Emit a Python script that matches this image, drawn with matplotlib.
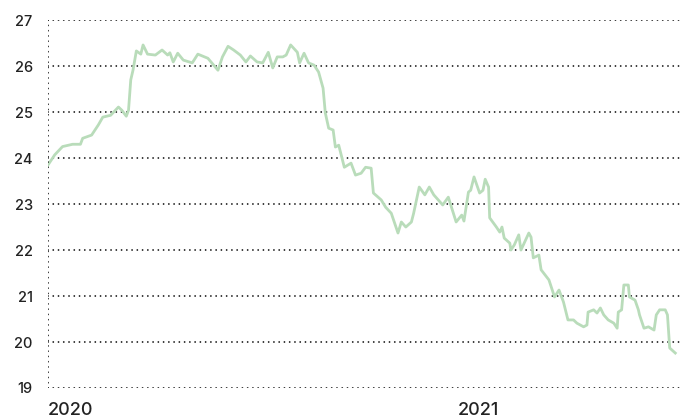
import matplotlib.pyplot as plt
import matplotlib.dates as mdates
import pandas as pd

# days since 2020-01-01 and the value
dias = [0, 6, 13, 22, 29, 31, 39, 45, 49, 56, 63, 66, 70, 72, 74, 76, 79, 83, 85, 89,
        96, 102, 107, 109, 112, 116, 121, 129, 134, 143, 152, 156, 161, 166, 172, 177,
        181, 187, 192, 197, 201, 205, 210, 213, 217, 223, 225, 229, 233, 238, 242, 246,
        248, 251, 255, 257, 260, 265, 271, 275, 280, 284, 289, 291, 298, 302, 307, 313,
        316, 320, 325, 327, 332, 337, 341, 345, 353, 358, 365, 370, 372, 376, 378, 381,
        386, 389, 391, 394, 395, 401, 404, 406, 408, 413, 414, 417, 421, 423, 430, 432,
        434, 439, 441, 448, 453, 457, 461, 465, 470, 473, 479, 482, 483, 488, 491, 494,
        497, 501, 506, 509, 510, 513, 515, 519, 520, 525, 528, 529, 533, 537, 542, 544,
        547, 552, 554, 556, 561]
valores = [23.85, 24.07, 24.25, 24.30, 24.30, 24.43, 24.50, 24.72, 24.89, 24.93, 25.11,
           25.04, 24.91, 25.04, 25.70, 25.91, 26.33, 26.26, 26.46, 26.26, 26.24, 26.35,
           26.24, 26.29, 26.09, 26.28, 26.13, 26.07, 26.26, 26.17, 25.91, 26.20, 26.43,
           26.35, 26.24, 26.09, 26.22, 26.09, 26.07, 26.30, 25.96, 26.20, 26.20, 26.24,
           26.46, 26.30, 26.07, 26.28, 26.07, 26.02, 25.87, 25.52, 24.98, 24.65, 24.61,
           24.24, 24.28, 23.80, 23.89, 23.63, 23.67, 23.80, 23.78, 23.24, 23.09, 22.93,
           22.80, 22.37, 22.61, 22.50, 22.61, 22.80, 23.37, 23.20, 23.37, 23.20, 22.98,
           23.15, 22.61, 22.76, 22.63, 23.26, 23.30, 23.59, 23.24, 23.30, 23.54, 23.37,
           22.70, 22.50, 22.39, 22.50, 22.26, 22.15, 22.00, 22.11, 22.33, 22.00, 22.37,
           22.28, 21.83, 21.89, 21.57, 21.35, 20.98, 21.13, 20.87, 20.48, 20.48, 20.41,
           20.33, 20.37, 20.65, 20.70, 20.63, 20.74, 20.59, 20.48, 20.41, 20.30, 20.65,
           20.70, 21.24, 21.24, 20.98, 20.91, 20.70, 20.59, 20.30, 20.33, 20.26, 20.59,
           20.70, 20.70, 20.59, 19.87, 19.76]

inicio = pd.Timestamp('2020-01-01')
datas = inicio + pd.to_timedelta(dias, unit='D')

plt.rcParams['font.family'] = ['Inter', 'DejaVu Sans']

fig = plt.figure(figsize=(6.82, 4.19), dpi=100)
ax = fig.add_axes([0.0704, 0.074, 0.9296, 0.878])

ax.plot(datas, valores, color='#b9dcba', linewidth=2.0, solid_joinstyle='round')

ax.set_ylim(19, 27)
ax.set_xlim(inicio, inicio + pd.Timedelta(days=567))
ax.set_yticks(range(19, 28))
ax.xaxis.set_major_locator(mdates.YearLocator())
ax.xaxis.set_major_formatter(mdates.DateFormatter('%Y'))

pontilhado = dict(color='#111111', linestyle=(0, (0.01, 2.9)), linewidth=1.3,
                  dash_capstyle='round')
ax.grid(axis='y', **pontilhado)
ax.axvline(inicio, **pontilhado)
for s in ax.spines.values():
    s.set_visible(False)

ax.tick_params(axis='y', length=0, pad=11, labelsize=10.5, labelcolor='#222222')
ax.tick_params(axis='x', length=0, pad=10, labelsize=13, labelcolor='#222222')
for lbl in ax.get_yticklabels():
    lbl.set_fontweight('medium')
for lbl in ax.get_xticklabels():
    lbl.set_horizontalalignment('left')
    lbl.set_fontweight('medium')

fig.savefig('out.png', dpi=100)
